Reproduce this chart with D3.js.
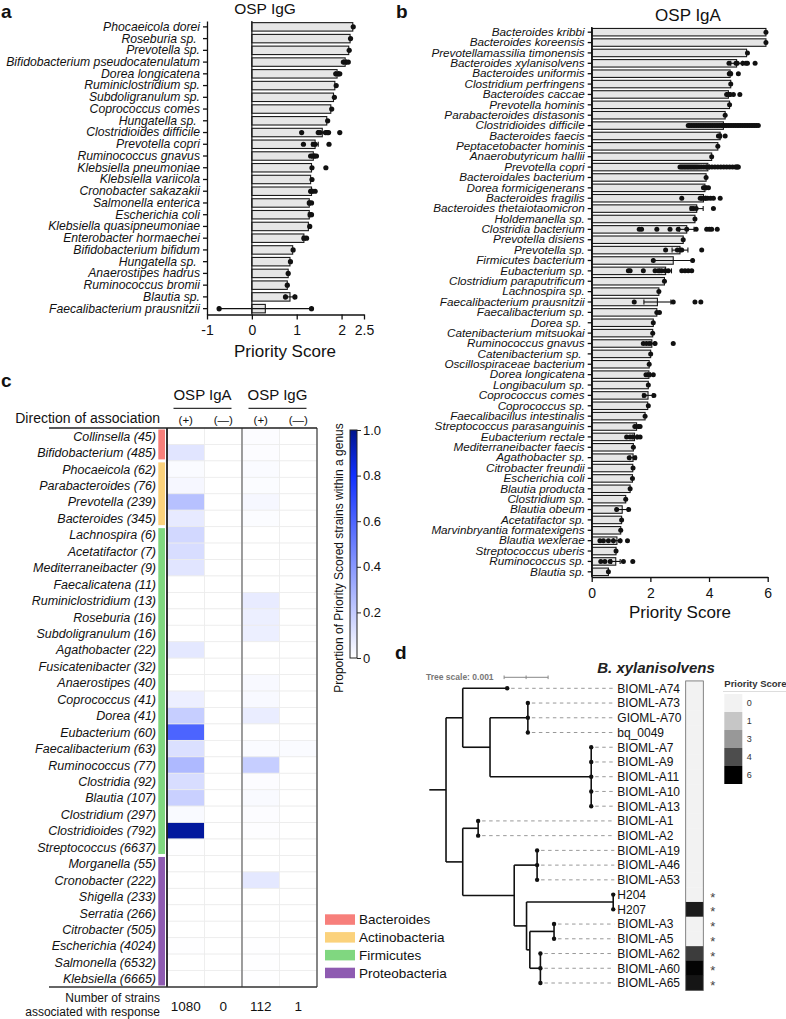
<!DOCTYPE html>
<html>
<head>
<meta charset="utf-8">
<script src="https://cdn.jsdelivr.net/npm/d3@7"></script>
<style>
  body { margin: 0; background: #fff; }
  svg { display: block; font-family: "Liberation Sans", Arial, sans-serif; }
</style>
</head>
<body>
<svg id="fig" width="786" height="1019"></svg>
<script>
// ---------------- data: panel a (OSP IgG) ----------------
const igGSpecies = ["Phocaeicola dorei", "Roseburia sp. ", "Prevotella sp.", "Bifidobacterium pseudocatenulatum",
  "Dorea longicatena", "Ruminiclostridium sp.", "Subdoligranulum sp.", "Coprococcus comes", "Hungatella sp. ",
  "Clostridioides difficile", "Prevotella copri", "Ruminococcus gnavus", "Klebsiella pneumoniae", "Klebsiella variicola",
  "Cronobacter sakazakii", "Salmonella enterica", "Escherichia coli", "Klebsiella quasipneumoniae",
  "Enterobacter hormaechei", "Bifidobacterium bifidum", "Hungatella sp. ", "Anaerostipes hadrus",
  "Ruminococcus bromii", "Blautia sp.", "Faecalibacterium prausnitzii"];
const igGScore = [2.25, 2.19, 2.16, 2.08, 1.9, 1.85, 1.82, 1.76, 1.67, 1.57, 1.41, 1.37, 1.33, 1.31, 1.33,
  1.28, 1.28, 1.26, 1.16, 0.91, 0.85, 0.81, 0.79, 0.85, 0.3];
const igGErr = [0, 0, 0, 0.03, 0.03, 0, 0, 0, 0, 0.1, 0.07, 0.03, 0, 0, 0.03, 0.02, 0.02, 0, 0.03, 0, 0, 0, 0, 0.105, 1.03];
const igGPoints = [[2.26], [2.2], [2.17], [2.04, 2.1, 2.15], [1.87, 1.93, 1.96], [1.88], [1.84], [1.78], [1.69],
  [1.11, 1.48, 1.52, 1.64, 1.68, 1.71, 1.96], [1.15, 1.37, 1.41, 1.72], [1.31, 1.36, 1.4, 1.44], [1.34, 1.65],
  [1.34], [1.31, 1.34, 1.41], [1.28, 1.33], [1.3, 1.33], [1.29], [1.16, 1.22], [0.92], [0.86], [0.81], [0.79],
  [0.75, 0.96], [-0.73, 1.33]];
const igGTicks = [-1, 0, 1, 2, 2.5];

// ---------------- data: panel b (OSP IgA) ----------------
const igASpecies = ["Bacteroides kribbi", "Bacteroides koreensis", "Prevotellamassilia timonensis",
  "Bacteroides xylanisolvens", "Bacteroides uniformis", "Clostridium perfringens", "Bacteroides caccae",
  "Prevotella hominis", "Parabacteroides distasonis", "Clostridioides difficile", "Bacteroides faecis",
  "Peptacetobacter hominis", "Anaerobutyricum hallii", "Prevotella copri", "Bacteroidales bacterium",
  "Dorea formicigenerans", "Bacteroides fragilis", "Bacteroides thetaiotaomicron", "Holdemanella sp.",
  "Clostridia bacterium", "Prevotella disiens", "Prevotella sp.", "Firmicutes bacterium", "Eubacterium sp.",
  "Clostridium paraputrificum", "Lachnospira sp.", "Faecalibacterium prausnitzii", "Faecalibacterium sp.",
  "Dorea sp. ", "Catenibacterium mitsuokai", "Ruminococcus gnavus", "Catenibacterium sp. ",
  "Oscillospiraceae bacterium", "Dorea longicatena", "Longibaculum sp.", "Coprococcus comes", "Coprococcus sp.",
  "Faecalibacillus intestinalis", "Streptococcus parasanguinis", "Eubacterium rectale", "Mediterraneibacter faecis",
  "Agathobacter sp.", "Citrobacter freundii", "Escherichia coli", "Blautia producta", "Clostridium sp.",
  "Blautia obeum", "Acetatifactor sp.", "Marvinbryantia formatexigens", "Blautia wexlerae", "Streptococcus uberis",
  "Ruminococcus sp.", "Blautia sp."];
const igAScore = [5.94, 5.94, 5.28, 4.94, 4.72, 4.74, 4.66, 4.7, 4.55, 4.49, 4.38, 4.3, 4.09, 3.96, 3.9, 3.86,
  3.81, 3.58, 3.52, 3.24, 3.12, 3.01, 2.78, 2.52, 2.48, 2.29, 2.24, 2.22, 2.1, 2.08, 2.05, 2.01, 1.96, 1.95,
  1.93, 1.92, 1.91, 1.82, 1.53, 1.46, 1.42, 1.41, 1.4, 1.39, 1.31, 1.16, 1.04, 1.02, 0.99, 0.86, 0.83, 0.82, 0.57];
const igAErr = [0, 0, 0, 0.2, 0.05, 0, 0.06, 0, 0, 0.05, 0.03, 0, 0, 0.05, 0, 0.03, 0.08, 0.22, 0, 0.25, 0, 0.27,
  0.67, 0.2, 0, 0, 0.46, 0, 0, 0, 0.1, 0, 0, 0.05, 0, 0.17, 0, 0, 0.05, 0.08, 0, 0.1, 0, 0, 0, 0, 0.2, 0, 0,
  0.12, 0, 0.15, 0];
const igAPoints = [[5.94], [5.94], [5.31], [4.68, 4.92, 4.96, 5.15, 5.26, 5.31, 5.57], [4.69, 4.74, 5.0], [4.74],
  [4.6, 4.66, 4.72, 4.83, 5.05], [4.7], [4.55],
  [3.29, 3.34, 3.4, 3.46, 3.52, 3.58, 3.64, 3.7, 3.76, 3.82, 3.88, 3.94, 4.0, 4.06, 4.12, 4.18, 4.24, 4.3, 4.36,
   4.42, 4.48, 4.54, 4.6, 4.66, 4.72, 4.78, 4.84, 4.9, 4.96, 5.02, 5.08, 5.14, 5.2, 5.26, 5.32, 5.38, 5.44, 5.5,
   5.56, 5.62, 5.68],
  [4.32, 4.37, 4.55], [4.3], [4.09],
  [3.01, 3.06, 3.11, 3.16, 3.21, 3.26, 3.31, 3.36, 3.41, 3.46, 3.51, 3.56, 3.61, 3.67, 3.74, 3.82, 3.9, 4.0, 4.1,
   4.2, 4.3, 4.4, 4.5, 4.6, 4.7, 4.8, 4.9, 4.94, 4.97, 5.0],
  [3.9], [3.81, 3.9, 3.98], [3.07, 3.7, 3.76, 3.82, 3.88, 3.95, 4.05, 4.15, 4.38], [3.41, 3.47, 3.56, 4.15], [3.52],
  [1.62, 1.7, 2.22, 2.67, 2.95, 3.24, 3.56, 3.92, 4.01, 4.09, 4.28], [3.12], [2.52, 2.92, 3.01, 3.07, 3.75],
  [2.1, 3.44], [1.25, 1.31, 1.76, 2.16, 2.27, 2.38, 2.5, 2.61, 3.07, 3.18, 3.29, 3.41], [2.48], [2.29],
  [1.45, 2.78, 3.52, 3.72], [2.22, 2.31], [2.1], [2.08], [1.76, 1.87, 1.99, 2.16, 2.78], [2.01], [1.96],
  [1.85, 1.96, 2.1], [1.93], [1.79, 2.12], [1.93], [1.82], [1.47, 1.59, 1.65], [1.19, 1.31, 1.42, 1.56, 1.65],
  [1.42], [1.28, 1.47], [1.41], [1.39], [1.31], [1.16], [0.85, 1.26], [1.02], [0.99],
  [0.28, 0.4, 0.57, 0.74, 0.97, 1.22], [0.83], [0.31, 0.45, 0.63, 1.08, 1.4], [0.57]];
const igATicks = [0, 2, 4, 6];

// ---------------- data: panel c (heatmap) ----------------
const genera = ["Collinsella (45)", "Bifidobacterium (485)", "Phocaeicola (62)", "Parabacteroides (76)",
  "Prevotella (239)", "Bacteroides (345)", "Lachnospira (6)", "Acetatifactor (7)", "Mediterraneibacter (9)",
  "Faecalicatena (11)", "Ruminiclostridium (13)", "Roseburia (16)", "Subdoligranulum (16)", "Agathobacter (22)",
  "Fusicatenibacter (32)", "Anaerostipes (40)", "Coprococcus (41)", "Dorea (41)", "Eubacterium (60)",
  "Faecalibacterium (63)", "Ruminococcus (77)", "Clostridia (92)", "Blautia (107)", "Clostridium (297)",
  "Clostridioides (792)", "Streptococcus (6637)", "Morganella (55)", "Cronobacter (222)", "Shigella (233)",
  "Serratia (266)", "Citrobacter (505)", "Escherichia (4024)", "Salmonella (6532)", "Klebsiella (6665)"];
const genusPhylum = [0, 0, 1, 1, 1, 1, 2, 2, 2, 2, 2, 2, 2, 2, 2, 2, 2, 2, 2, 2, 2, 2, 2, 2, 2, 2,
  3, 3, 3, 3, 3, 3, 3, 3];
const igAPos = [0, 0.1, 0.016, 0.03, 0.24, 0.08, 0.15, 0.13, 0.1, 0, 0, 0, 0, 0.09, 0, 0, 0.06, 0.19, 0.6,
  0.12, 0.27, 0.13, 0.18, 0.02, 0.97, 0.003, 0, 0, 0, 0, 0, 0.002, 0, 0];
const igANeg = [0, 0, 0, 0, 0, 0, 0, 0, 0, 0, 0, 0, 0, 0, 0, 0, 0, 0, 0, 0, 0, 0, 0, 0, 0, 0, 0, 0, 0, 0, 0, 0, 0, 0];
const igGPos = [0.01, 0.01, 0.016, 0.013, 0.03, 0.012, 0, 0, 0, 0, 0.077, 0.0625, 0.0625, 0, 0, 0.025, 0.024,
  0.07, 0, 0.016, 0.19, 0.01, 0.019, 0.01, 0.006, 0, 0, 0.09, 0, 0, 0, 0.004, 0.004, 0.004];
const igGNeg = [0, 0, 0, 0, 0, 0, 0, 0, 0, 0, 0, 0, 0, 0, 0, 0, 0, 0, 0, 0.016, 0, 0, 0, 0, 0, 0, 0, 0, 0, 0, 0, 0, 0, 0];
const heatCols = ["(+)", "(\u2014)", "(+)", "(\u2014)"];
const strainCounts = [1080, 0, 112, 1];
const phylumNames = ["Bacteroides", "Actinobacteria", "Firmicutes", "Proteobacteria"];
const colorbarTicks = [0, 0.2, 0.4, 0.6, 0.8, 1.0];

// ---------------- data: panel d (tree) ----------------
const treeNode   = ["root", "n1", "BIOML-A74", "n2", "n3", "BIOML-A73", "GIOML-A70", "bq_0049", "n4", "BIOML-A7",
  "BIOML-A9", "BIOML-A11", "BIOML-A10", "BIOML-A13", "n5", "n6", "BIOML-A1", "BIOML-A2", "n7", "n8", "BIOML-A19",
  "BIOML-A46", "BIOML-A53", "n9", "n10", "H204", "H207", "n11", "n12", "BIOML-A3", "BIOML-A5", "n13", "BIOML-A62",
  "BIOML-A60", "BIOML-A65"];
const treeParent = ["", "root", "n1", "n1", "n2", "n3", "n3", "n3", "n2", "n4", "n4", "n4", "n4", "n4", "root",
  "n5", "n6", "n6", "n5", "n7", "n8", "n8", "n8", "n7", "n9", "n10", "n10", "n9", "n11", "n12", "n12", "n11",
  "n13", "n13", "n13"];
const branchLen  = [0.00038, 0.00038, 0.00101, 0.00062, 0.00086, 0, 0, 0, 0.0023, 0, 0, 0, 0, 0, 0.00038,
  0.00035, 0, 0, 0.00117, 0.00052, 0, 0, 0, 0.00028, 0.00197, 0, 0, 0.000075, 0.00055, 0, 0, 0.00024, 0, 0, 0];
const leafNames  = ["BIOML-A74", "BIOML-A73", "GIOML-A70", "bq_0049", "BIOML-A7", "BIOML-A9", "BIOML-A11",
  "BIOML-A10", "BIOML-A13", "BIOML-A1", "BIOML-A2", "BIOML-A19", "BIOML-A46", "BIOML-A53", "H204", "H207",
  "BIOML-A3", "BIOML-A5", "BIOML-A62", "BIOML-A60", "BIOML-A65"];
const leafScore  = [0, 0, 0, 0, 0, 0, 0, 0, 0, 0, 0, 0, 0, 0, 0, 5.3, 0, 0, 4.45, 5.9, 5.45];
const leafStar   = ["H204", "H207", "BIOML-A3", "BIOML-A5", "BIOML-A62", "BIOML-A60", "BIOML-A65"];
const scoreLegend = [0, 1, 3, 4, 6];

// ---------------------------------------------------------
const FONT = '"Liberation Sans", Arial, sans-serif';
const svg = d3.select("#fig");
svg.append("rect").attr("width", 786).attr("height", 1019).attr("fill", "#fff");

function panelLabel(t, x, y) {
  svg.append("text").attr("x", x).attr("y", y).text(t)
    .attr("font-size", 19).attr("font-weight", "bold").attr("fill", "#111");
}

// horizontal bar chart with points and error bars
function barPanel(o) {
  const g = svg.append("g");
  const x = d3.scaleLinear().domain(o.domain).range(o.xRange);
  const y = d3.scaleBand().domain(d3.range(o.names.length)).range(o.yRange)
              .paddingInner(0.28).paddingOuter(0.14);
  const cy = i => y(i) + y.bandwidth() / 2;

  g.selectAll("rect.bar").data(o.scores).join("rect").attr("class", "bar")
    .attr("x", d => x(Math.min(0, d)))
    .attr("y", (d, i) => y(i))
    .attr("width", d => Math.abs(x(d) - x(0)))
    .attr("height", y.bandwidth())
    .attr("fill", "#e6e6e6").attr("stroke", "#1a1a1a").attr("stroke-width", 1.1);

  // zero line
  g.append("line").attr("x1", x(0)).attr("x2", x(0)).attr("y1", o.yRange[0]).attr("y2", o.yRange[1])
    .attr("stroke", "#1a1a1a").attr("stroke-width", 1.3);

  // error bars
  const eb = o.scores.map((s, i) => ({i: i, s: s, e: o.err[i]})).filter(d => d.e > 0);
  const ebg = g.selectAll("g.eb").data(eb).join("g").attr("class", "eb")
    .attr("stroke", "#111").attr("stroke-width", 1.1);
  ebg.append("line").attr("x1", d => x(d.s - d.e)).attr("x2", d => x(d.s + d.e))
    .attr("y1", d => cy(d.i)).attr("y2", d => cy(d.i));
  ebg.append("line").attr("x1", d => x(d.s - d.e)).attr("x2", d => x(d.s - d.e))
    .attr("y1", d => cy(d.i) - 2.5).attr("y2", d => cy(d.i) + 2.5);
  ebg.append("line").attr("x1", d => x(d.s + d.e)).attr("x2", d => x(d.s + d.e))
    .attr("y1", d => cy(d.i) - 2.5).attr("y2", d => cy(d.i) + 2.5);

  // points
  const pts = o.points.flatMap((arr, i) => arr.map(v => ({i: i, v: v})));
  g.selectAll("circle.pt").data(pts).join("circle").attr("class", "pt")
    .attr("cx", d => x(d.v)).attr("cy", d => cy(d.i)).attr("r", o.r).attr("fill", "#111");

  // axes
  g.append("g").attr("transform", `translate(${o.xRange[0]},0)`)
    .call(d3.axisLeft(y).tickSize(4).tickSizeOuter(0).tickPadding(3).tickFormat(i => o.names[i]))
    .attr("font-family", FONT)
    .call(a => a.selectAll("text").attr("font-size", o.labelSize).attr("font-style", "italic")
      .attr("fill", "#111").style("white-space", "pre"))
    .call(a => a.selectAll("line,path").attr("stroke", "#111").attr("stroke-width", 1.3));

  g.append("g").attr("transform", `translate(0,${o.yRange[1]})`)
    .call(d3.axisBottom(x).tickValues(o.ticks).tickSize(5).tickSizeOuter(0).tickPadding(6).tickFormat(d => String(d)))
    .attr("font-family", FONT)
    .call(a => a.selectAll("text").attr("font-size", 14).attr("fill", "#111"))
    .call(a => a.selectAll("line,path").attr("stroke", "#111").attr("stroke-width", 1.3));

  g.append("text").attr("x", o.xlabX).attr("y", o.xlabY).attr("text-anchor", "middle")
    .attr("font-size", 17).attr("fill", "#111").text("Priority Score");
  g.append("text").attr("x", o.titleX).attr("y", o.titleY).attr("text-anchor", "middle")
    .attr("font-size", o.titleSize).attr("fill", "#111").text(o.title);
}

// ---- panel a ----
panelLabel("a", 1, 18);
barPanel({names: igGSpecies, scores: igGScore, err: igGErr, points: igGPoints, ticks: igGTicks,
  domain: [-1, 2.5], xRange: [207, 364], yRange: [21, 314.5], r: 2.6, labelSize: 12.2,
  xlabX: 285, xlabY: 357, title: "OSP IgG", titleX: 265, titleY: 13.5, titleSize: 15.5});

// ---- panel b ----
panelLabel("b", 396, 18);
barPanel({names: igASpecies, scores: igAScore, err: igAErr, points: igAPoints, ticks: igATicks,
  domain: [0, 6], xRange: [591.7, 767.7], yRange: [27, 577], r: 2.5, labelSize: 11.7,
  xlabX: 680, xlabY: 618, title: "OSP IgA", titleX: 688, titleY: 21, titleSize: 17});

// ---- panel c: heatmap ----
panelLabel("c", 1, 387);
const heatValues = [igAPos, igANeg, igGPos, igGNeg];
const hx = d3.scaleBand().domain(d3.range(heatCols.length)).range([167, 317]);
const hy = d3.scaleBand().domain(d3.range(genera.length)).range([428, 987]);
const heatColor = d3.scaleLinear().domain([0, 0.8, 1]).range(["#ffffff", "#1030ff", "#00148c"]);
const phylumColor = d3.scaleOrdinal().domain(d3.range(4)).range(["#f77f7b", "#fbd27c", "#80d780", "#8e5bb1"]);

const cells = genera.flatMap((gname, i) => heatValues.map((col, j) => ({i: i, j: j, v: col[i]})));
const gc = svg.append("g");
gc.selectAll("rect.cell").data(cells).join("rect").attr("class", "cell")
  .attr("x", d => hx(d.j)).attr("y", d => hy(d.i))
  .attr("width", hx.bandwidth()).attr("height", hy.bandwidth())
  .attr("fill", d => heatColor(d.v)).attr("stroke", "#ececec").attr("stroke-width", 0.8);

// borders
gc.append("line").attr("x1", 167).attr("x2", 167).attr("y1", 428).attr("y2", 987).attr("stroke", "#111").attr("stroke-width", 1.7);
gc.append("line").attr("x1", hx(2)).attr("x2", hx(2)).attr("y1", 428).attr("y2", 987).attr("stroke", "#777").attr("stroke-width", 1.4);
gc.append("line").attr("x1", 317).attr("x2", 317).attr("y1", 428).attr("y2", 987).attr("stroke", "#555").attr("stroke-width", 1.4);
gc.append("line").attr("x1", 49).attr("x2", 317).attr("y1", 428).attr("y2", 428).attr("stroke", "#222").attr("stroke-width", 1.5);
gc.append("line").attr("x1", 49).attr("x2", 317).attr("y1", 987).attr("y2", 987).attr("stroke", "#333").attr("stroke-width", 1.5);

// genus labels
gc.selectAll("text.genus").data(genera).join("text").attr("class", "genus")
  .attr("x", 156).attr("y", (d, i) => hy(i) + hy.bandwidth() / 2).attr("dy", "0.36em")
  .attr("text-anchor", "end").attr("font-size", 12.5).attr("font-style", "italic").attr("fill", "#111")
  .text(d => d);

// phylum strip
const phylumSpans = d3.range(4).map(p => {
  const rows = d3.range(genera.length).filter(i => genusPhylum[i] === p);
  return {p: p, i0: d3.min(rows), i1: d3.max(rows)};
});
gc.selectAll("rect.phy").data(phylumSpans).join("rect").attr("class", "phy")
  .attr("x", 158.3).attr("width", 6.7)
  .attr("y", d => hy(d.i0) + 1.5)
  .attr("height", d => hy(d.i1) + hy.bandwidth() - hy(d.i0) - 3)
  .attr("fill", d => phylumColor(d.p));

// headers
[["OSP IgA", 0], ["OSP IgG", 2]].forEach(([t, j]) => {
  const cx = hx(j) + hx.bandwidth() - 2;
  gc.append("text").attr("x", cx).attr("y", 400).attr("text-anchor", "middle")
    .attr("font-size", 15).attr("fill", "#111").text(t);
  gc.append("line").attr("x1", cx - 29).attr("x2", cx + 29).attr("y1", 408.3).attr("y2", 408.3)
    .attr("stroke", "#333").attr("stroke-width", 1.2);
});
gc.selectAll("text.dir").data(heatCols).join("text").attr("class", "dir")
  .attr("x", (d, j) => hx(j) + hx.bandwidth() / 2).attr("y", 424).attr("text-anchor", "middle")
  .attr("font-size", 11.5).attr("fill", "#111").text(d => d);
gc.append("text").attr("x", 160).attr("y", 423).attr("text-anchor", "end")
  .attr("font-size", 14).attr("fill", "#111").text("Direction of association");

// bottom counts
gc.append("text").attr("x", 160).attr("y", 1002).attr("text-anchor", "end")
  .attr("font-size", 12).attr("fill", "#111").text("Number of strains");
gc.append("text").attr("x", 160).attr("y", 1015.5).attr("text-anchor", "end")
  .attr("font-size", 12).attr("fill", "#111").text("associated with response");
gc.selectAll("text.cnt").data(strainCounts).join("text").attr("class", "cnt")
  .attr("x", (d, j) => hx(j) + hx.bandwidth() / 2).attr("y", 1011).attr("text-anchor", "middle")
  .attr("font-size", 13.5).attr("fill", "#111").text(d => d);

// colour bar
const defs = svg.append("defs");
const grad = defs.append("linearGradient").attr("id", "heatGrad")
  .attr("x1", 0).attr("y1", 1).attr("x2", 0).attr("y2", 0);
d3.range(0, 1.0001, 0.05).forEach(t => grad.append("stop").attr("offset", t).attr("stop-color", heatColor(t)));
const cbY = d3.scaleLinear().domain([0, 1]).range([658, 430]);
gc.append("rect").attr("x", 350).attr("y", 430).attr("width", 7).attr("height", 228)
  .attr("fill", "url(#heatGrad)").attr("stroke", "#222").attr("stroke-width", 1);
gc.append("g").attr("transform", "translate(357,0)")
  .call(d3.axisRight(cbY).tickValues(colorbarTicks).tickSize(4).tickSizeOuter(0).tickPadding(2)
    .tickFormat(d => d === 0 ? "0" : d.toFixed(1)))
  .attr("font-family", FONT)
  .call(a => a.select(".domain").remove())
  .call(a => a.selectAll("text").attr("font-size", 13).attr("fill", "#111"))
  .call(a => a.selectAll("line").attr("stroke", "#222"));
gc.append("text").attr("transform", "translate(343,558) rotate(-90)").attr("text-anchor", "middle")
  .attr("font-size", 12).attr("fill", "#111").text("Proportion of Priority Scored strains within a genus");

// phylum legend
const lg = gc.selectAll("g.lg").data(phylumNames).join("g").attr("class", "lg")
  .attr("transform", (d, i) => `translate(325,${914.3 + i * 17.8})`);
lg.append("rect").attr("width", 30).attr("height", 10.5).attr("fill", (d, i) => phylumColor(i));
lg.append("text").attr("x", 34).attr("y", 10).attr("font-size", 13.5).attr("fill", "#111").text(d => d);

// ---- panel d: tree ----
panelLabel("d", 395, 659);
const gd = svg.append("g");
const root = d3.stratify().id((d, i) => treeNode[i]).parentId((d, i) => treeParent[i] || null)(treeNode.map((n, i) => ({name: n, len: branchLen[i]})));
root.eachBefore(d => { d.dist = (d.parent ? d.parent.dist : 0) + d.data.len; });
const ly = d3.scalePoint().domain(leafNames).range([688.3, 983]);
root.eachAfter(d => {
  d.py = d.children ? (d.children[0].py + d.children[d.children.length - 1].py) / 2 : ly(d.data.name);
});
const tx = d3.scaleLinear().domain([0, 0.001]).range([429.3, 473.3]);
const labelX = 617.3;

// dashed leaders
gd.selectAll("line.lead").data(root.leaves().filter(d => labelX - 3 - tx(d.dist) > 6)).join("line")
  .attr("class", "lead").attr("x1", d => tx(d.dist) + 4).attr("x2", labelX - 3)
  .attr("y1", d => d.py).attr("y2", d => d.py)
  .attr("stroke", "#999").attr("stroke-width", 1).attr("stroke-dasharray", "3.5,3.5");

// branches
gd.append("line").attr("x1", tx(0)).attr("x2", tx(root.dist)).attr("y1", root.py).attr("y2", root.py)
  .attr("stroke", "#111").attr("stroke-width", 1.6);
gd.selectAll("line.hb").data(root.descendants().filter(d => d.parent && d.data.len > 0)).join("line")
  .attr("class", "hb").attr("x1", d => tx(d.parent.dist)).attr("x2", d => tx(d.dist))
  .attr("y1", d => d.py).attr("y2", d => d.py).attr("stroke", "#111").attr("stroke-width", 1.6);
gd.selectAll("line.vb").data(root.descendants().filter(d => d.children)).join("line")
  .attr("class", "vb").attr("x1", d => tx(d.dist)).attr("x2", d => tx(d.dist))
  .attr("y1", d => d.children[0].py).attr("y2", d => d.children[d.children.length - 1].py)
  .attr("stroke", "#111").attr("stroke-width", 1.6);
gd.selectAll("circle.leaf").data(root.leaves()).join("circle").attr("class", "leaf")
  .attr("cx", d => tx(d.dist)).attr("cy", d => d.py).attr("r", 2.2).attr("fill", "#111");

// leaf labels
gd.selectAll("text.leaf").data(leafNames).join("text").attr("class", "leaf")
  .attr("x", labelX).attr("y", d => ly(d)).attr("dy", "0.36em")
  .attr("font-size", 12).attr("fill", "#111").text(d => d);

// priority score column
const grey = d3.scaleLinear().domain([0, 1, 3, 4, 6]).range(["#f2f2f2", "#c6c6c6", "#989898", "#4d4d4d", "#000000"]);
const step = ly.step();
gd.selectAll("rect.ps").data(leafNames).join("rect").attr("class", "ps")
  .attr("x", 685.7).attr("width", 17.6)
  .attr("y", d => ly(d) - step / 2).attr("height", step + 0.3)
  .attr("fill", (d, i) => grey(leafScore[i]));
gd.append("rect").attr("x", 685.7).attr("width", 17.6).attr("y", ly(leafNames[0]) - step / 2)
  .attr("height", step * leafNames.length).attr("fill", "none").attr("stroke", "#666").attr("stroke-width", 0.8);
gd.selectAll("text.star").data(leafStar).join("text").attr("class", "star")
  .attr("x", 712.7).attr("y", d => ly(d) + 7).attr("text-anchor", "middle")
  .attr("font-size", 13).attr("fill", "#444").text("*");

// titles
gd.append("text").attr("x", 656).attr("y", 673).attr("text-anchor", "middle")
  .attr("font-size", 15).attr("font-weight", "bold").attr("font-style", "italic").attr("fill", "#222")
  .text("B. xylanisolvens");
gd.append("text").attr("x", 426).attr("y", 680).attr("font-size", 8.5).attr("font-weight", 600)
  .attr("fill", "#777").text("Tree scale: 0.001");
const sb = gd.append("g").attr("stroke", "#888").attr("stroke-width", 1);
sb.append("line").attr("x1", tx(0.0017)).attr("x2", tx(0.0027)).attr("y1", 677.3).attr("y2", 677.3);
[0.0017, 0.0022, 0.0027].forEach(v => sb.append("line").attr("x1", tx(v)).attr("x2", tx(v)).attr("y1", 675.5).attr("y2", 679.1));

// priority score legend
gd.append("text").attr("x", 724.3).attr("y", 686.5).attr("font-size", 9.5).attr("font-weight", "bold")
  .attr("fill", "#333").text("Priority Score");
gd.append("line").attr("x1", 723).attr("x2", 786).attr("y1", 691.5).attr("y2", 691.5).attr("stroke", "#ddd");
const sl = gd.selectAll("g.sl").data(scoreLegend).join("g").attr("class", "sl")
  .attr("transform", (d, i) => `translate(724.3,${694 + i * 18})`);
sl.append("rect").attr("width", 18).attr("height", 18).attr("fill", d => grey(d));
sl.append("text").attr("x", 22.5).attr("y", 9).attr("dy", "0.35em").attr("font-size", 9)
  .attr("fill", "#333").text(d => d);
</script>
</body>
</html>
